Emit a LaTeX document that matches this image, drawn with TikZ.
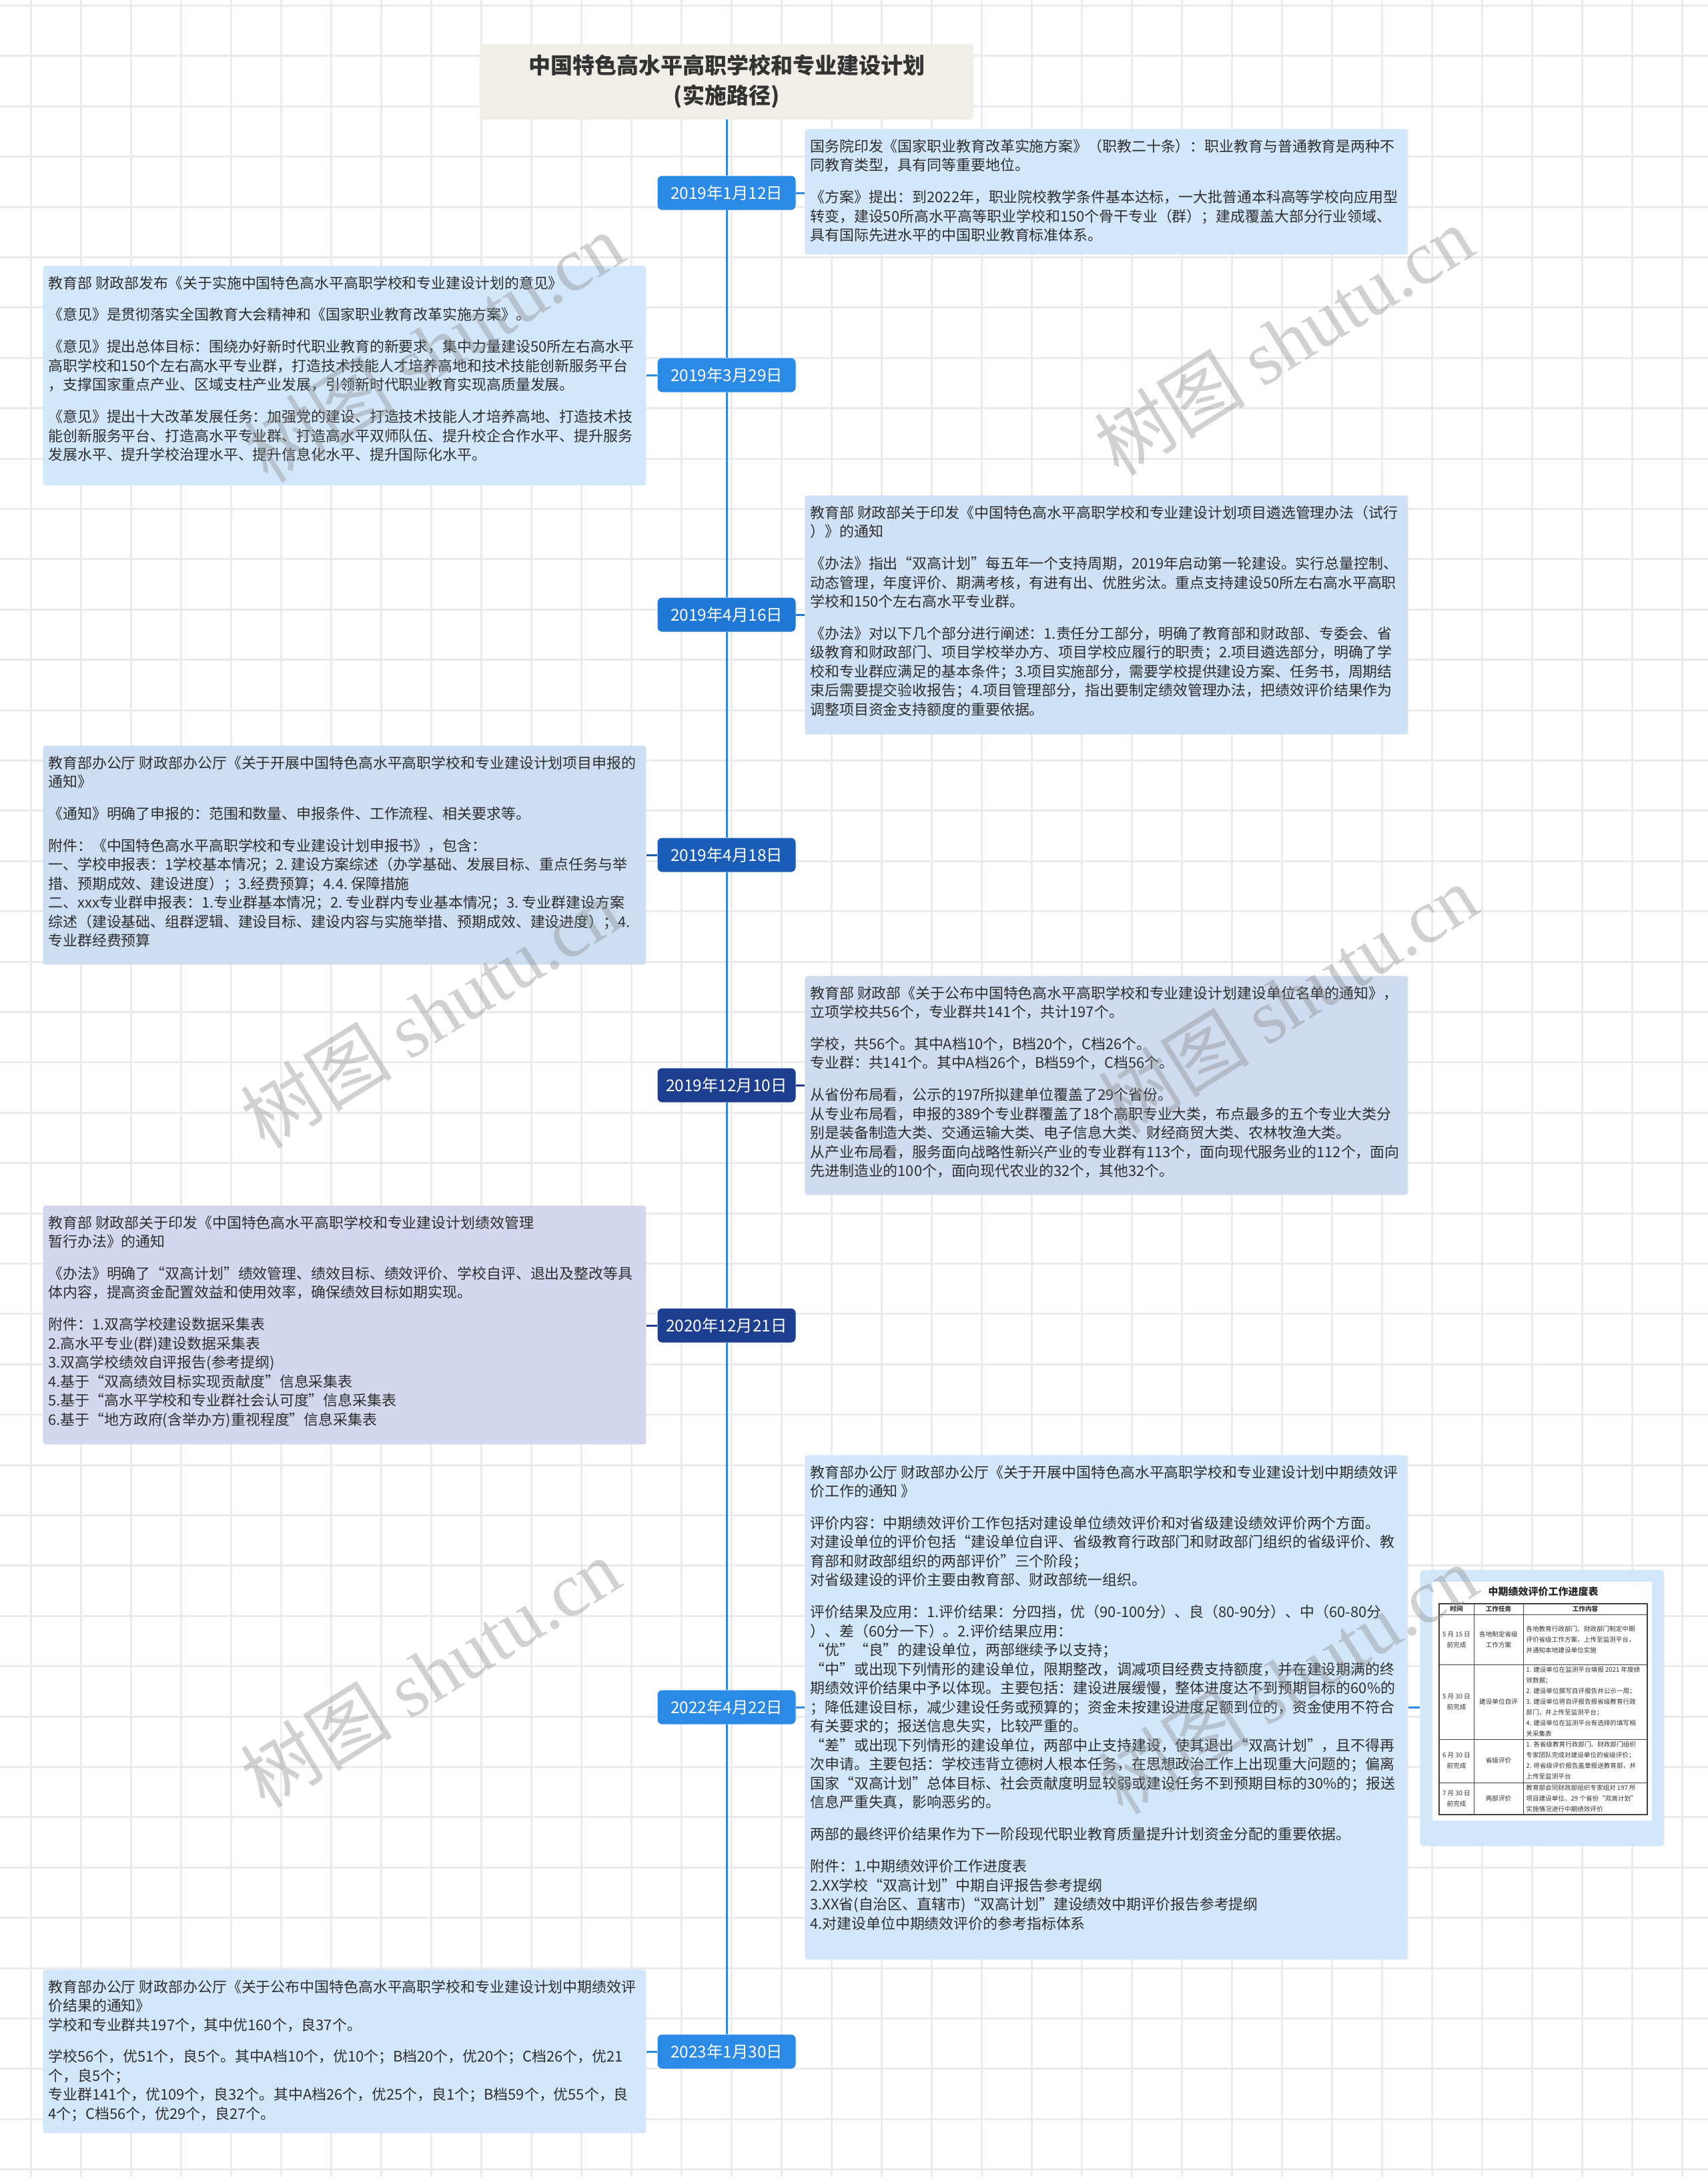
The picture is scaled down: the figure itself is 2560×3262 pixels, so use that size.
\documentclass[tikz,border=0pt]{standalone}
\usepackage{fontspec}
\setmainfont{Noto Sans CJK SC}
\newfontfamily\wmserif{Liberation Serif}
\newcommand{\tabfont}{\fontsize{4.8pt}{8pt}\selectfont}
\definecolor{gridgray}{HTML}{EBEBEB}
\definecolor{titlefill}{HTML}{EFEFE7}
\definecolor{titletext}{HTML}{333333}
\definecolor{dateblue}{HTML}{2B8AE6}
\definecolor{datemid}{HTML}{1F78D6}
\definecolor{datedeep}{HTML}{1A5DB8}
\definecolor{datenavy}{HTML}{1E3F8F}
\definecolor{noteblue}{HTML}{D3E7FA}
\definecolor{notemid}{HTML}{CFE1F5}
\definecolor{notedeep}{HTML}{CEDEF2}
\definecolor{notegrey}{HTML}{CFDBEE}
\definecolor{notenavy}{HTML}{D4D8EE}
\definecolor{notetext}{HTML}{2E2E2E}
\definecolor{wmgray}{HTML}{8C8C8C}
\begin{document}
\begin{tikzpicture}[x=0.5pt, y=-0.5pt,
  gridline/.style={draw=gridgray, line width=1.5pt},
  titlebox/.style={fill=titlefill, rounded corners=3pt, minimum width=370pt, minimum height=56.5pt, align=center, text=titletext, font=\fontsize{16.5pt}{22.5pt}\selectfont\bfseries},
  datebox/.style={rounded corners=3.5pt, minimum width=103.5pt, minimum height=25.5pt, inner sep=0pt, text=white, font=\fontsize{12.2pt}{14pt}\selectfont},
  notebox/.style={anchor=north west, rounded corners=2pt, inner xsep=4pt, inner ysep=7.5pt, text=notetext, font=\fontsize{10.95pt}{14.25pt}\selectfont},
  spine/.style={draw=dateblue, line width=1.5pt},
  link/.style={line width=1.5pt},
  tabline/.style={draw=black!75, line width=0.5pt},
  tabcell/.style={inner sep=0pt, align=center, text=black!80, font=\tabfont},
  tabtext/.style={inner sep=0pt, anchor=west, align=left, text=black!80, font=\tabfont},
  watermark/.style={rotate=32, text=wmgray, text opacity=0.4, font=\fontsize{57pt}{60pt}\selectfont}
]
\useasboundingbox (0,0) rectangle (2560,3262);
\fill[white] (0,0) rectangle (2560,3262);
% background grid
\foreach \k in {0,...,33}
  \draw[gridline] ({46+75*\k},0) -- ({46+75*\k},3262);
\foreach \k in {0,...,43}
  \draw[gridline] (0,{8.4+75.4*\k}) -- (2560,{8.4+75.4*\k});

% title and dates on the time line
\node[titlebox] (title) at (1089,122.5) {中国特色高水平高职学校和专业建设计划\\(实施路径)};
\node[datebox, fill=dateblue] (d1) at (1089,289) {2019年1月12日};
\node[datebox, fill=dateblue] (d2) at (1089,562) {2019年3月29日};
\node[datebox, fill=datemid] (d3) at (1089,921) {2019年4月16日};
\node[datebox, fill=datedeep] (d4) at (1089,1281) {2019年4月18日};
\node[datebox, fill=datenavy] (d5) at (1089,1626) {2019年12月10日};
\node[datebox, fill=datenavy] (d6) at (1089,1986) {2020年12月21日};
\node[datebox, fill=dateblue] (d7) at (1089,2558) {2022年4月22日};
\node[datebox, fill=dateblue] (d8) at (1089,3074) {2023年1月30日};

\draw[spine] (title) -- (d1);
\draw[spine] (d1) -- (d2);
\draw[spine] (d2) -- (d3);
\draw[spine] (d3) -- (d4);
\draw[spine] (d4) -- (d5);
\draw[spine] (d5) -- (d6);
\draw[spine] (d6) -- (d7);
\draw[spine] (d7) -- (d8);

% notes
\node[notebox, fill=noteblue] (n1) at (1206,193) {\parbox[t][79pt][t]{444pt}{\raggedright
国务院印发《国家职业教育改革实施方案》（职教二十条）：职业教育与普通教育是两种不\\
同教育类型，具有同等重要地位。\\[9.7pt]
《方案》提出：到2022年，职业院校教学条件基本达标，一大批普通本科高等学校向应用型\\
转变，建设50所高水平高等职业学校和150个骨干专业（群）；建成覆盖大部分行业领域、\\
具有国际先进水平的中国职业教育标准体系。}};

\node[notebox, fill=noteblue] (n2) at (64,398) {\parbox[t][149.5pt][t]{444pt}{\raggedright
教育部~财政部发布《关于实施中国特色高水平高职学校和专业建设计划的意见》\\[9.7pt]
《意见》是贯彻落实全国教育大会精神和《国家职业教育改革实施方案》。\\[9.7pt]
《意见》提出总体目标：围绕办好新时代职业教育的新要求，集中力量建设50所左右高水平\\
高职学校和150个左右高水平专业群，打造技术技能人才培养高地和技术技能创新服务平台\\
，支撑国家重点产业、区域支柱产业发展，引领新时代职业教育实现高质量发展。\\[9.7pt]
《意见》提出十大改革发展任务：加强党的建设、打造技术技能人才培养高地、打造技术技\\
能创新服务平台、打造高水平专业群、打造高水平双师队伍、提升校企合作水平、提升服务\\
发展水平、提升学校治理水平、提升信息化水平、提升国际化水平。}};

\node[notebox, fill=notemid] (n3) at (1206,742) {\parbox[t][164pt][t]{444pt}{\raggedright
教育部~财政部关于印发《中国特色高水平高职学校和专业建设计划项目遴选管理办法（试行\\
）》的通知\\[9.7pt]
《办法》指出“双高计划”每五年一个支持周期，2019年启动第一轮建设。实行总量控制、\\
动态管理，年度评价、期满考核，有进有出、优胜劣汰。重点支持建设50所左右高水平高职\\
学校和150个左右高水平专业群。\\[9.7pt]
《办法》对以下几个部分进行阐述：1.责任分工部分，明确了教育部和财政部、专委会、省\\
级教育和财政部门、项目学校举办方、项目学校应履行的职责；2.项目遴选部分，明确了学\\
校和专业群应满足的基本条件；3.项目实施部分，需要学校提供建设方案、任务书，周期结\\
束后需要提交验收报告；4.项目管理部分，指出要制定绩效管理办法，把绩效评价结果作为\\
调整项目资金支持额度的重要依据。}};

\node[notebox, fill=notedeep] (n4) at (64,1117) {\parbox[t][149pt][t]{444pt}{\raggedright
教育部办公厅~财政部办公厅《关于开展中国特色高水平高职学校和专业建设计划项目申报的\\
通知》\\[9.7pt]
《通知》明确了申报的：范围和数量、申报条件、工作流程、相关要求等。\\[9.7pt]
附件：《中国特色高水平高职学校和专业建设计划申报书》，包含：\\
一、学校申报表：1学校基本情况；2.~建设方案综述（办学基础、发展目标、重点任务与举\\
措、预期成效、建设进度）；3.经费预算；4.4.~保障措施\\
二、xxx专业群申报表：1.专业群基本情况；2.~专业群内专业基本情况；3.~专业群建设方案\\
综述（建设基础、组群逻辑、建设目标、建设内容与实施举措、预期成效、建设进度）；4.\\
专业群经费预算}};

\node[notebox, fill=notegrey] (n5) at (1206,1462) {\parbox[t][149pt][t]{444pt}{\raggedright
教育部~财政部《关于公布中国特色高水平高职学校和专业建设计划建设单位名单的通知》，\\
立项学校共56个，专业群共141个，共计197个。\\[9.7pt]
学校，共56个。其中A档10个，B档20个，C档26个。\\
专业群：共141个。其中A档26个，B档59个，C档56个。\\[9.7pt]
从省份布局看，公示的197所拟建单位覆盖了29个省份。\\
从专业布局看，申报的389个专业群覆盖了18个高职专业大类，布点最多的五个专业大类分\\
别是装备制造大类、交通运输大类、电子信息大类、财经商贸大类、农林牧渔大类。\\
从产业布局看，服务面向战略性新兴产业的专业群有113个，面向现代服务业的112个，面向\\
先进制造业的100个，面向现代农业的32个，其他32个。}};

\node[notebox, fill=notenavy] (n6) at (64,1806) {\parbox[t][164pt][t]{444pt}{\raggedright
教育部~财政部关于印发《中国特色高水平高职学校和专业建设计划绩效管理\\
暂行办法》的通知\\[9.7pt]
《办法》明确了“双高计划”绩效管理、绩效目标、绩效评价、学校自评、退出及整改等具\\
体内容，提高资金配置效益和使用效率，确保绩效目标如期实现。\\[9.7pt]
附件：1.双高学校建设数据采集表\\
2.高水平专业(群)建设数据采集表\\
3.双高学校绩效自评报告(参考提纲)\\
4.基于“双高绩效目标实现贡献度”信息采集表\\
5.基于“高水平学校和专业群社会认可度”信息采集表\\
6.基于“地方政府(含举办方)重视程度”信息采集表}};

\node[notebox, fill=noteblue] (n7) at (1206,2180) {\parbox[t][363pt][t]{444pt}{\raggedright
教育部办公厅~财政部办公厅《关于开展中国特色高水平高职学校和专业建设计划中期绩效评\\
价工作的通知~》\\[9.7pt]
评价内容：中期绩效评价工作包括对建设单位绩效评价和对省级建设绩效评价两个方面。\\
对建设单位的评价包括“建设单位自评、省级教育行政部门和财政部门组织的省级评价、教\\
育部和财政部组织的两部评价”三个阶段；\\
对省级建设的评价主要由教育部、财政部统一组织。\\[9.7pt]
评价结果及应用：1.评价结果：分四挡，优（90-100分）、良（80-90分）、中（60-80分\\
）、差（60分一下）。2.评价结果应用：\\
“优”“良”的建设单位，两部继续予以支持；\\
“中”或出现下列情形的建设单位，限期整改，调减项目经费支持额度，并在建设期满的终\\
期绩效评价结果中予以体现。主要包括：建设进展缓慢，整体进度达不到预期目标的60\%的\\
；降低建设目标，减少建设任务或预算的；资金未按建设进度足额到位的，资金使用不符合\\
有关要求的；报送信息失实，比较严重的。\\
“差”或出现下列情形的建设单位，两部中止支持建设，使其退出“双高计划”，且不得再\\
次申请。主要包括：学校违背立德树人根本任务，在思想政治工作上出现重大问题的；偏离\\
国家“双高计划”总体目标、社会贡献度明显较弱或建设任务不到预期目标的30\%的；报送\\
信息严重失真，影响恶劣的。\\[9.7pt]
两部的最终评价结果作为下一阶段现代职业教育质量提升计划资金分配的重要依据。\\[9.7pt]
附件：1.中期绩效评价工作进度表\\
2.XX学校“双高计划”中期自评报告参考提纲\\
3.XX省(自治区、直辖市)“双高计划”建设绩效中期评价报告参考提纲\\
4.对建设单位中期绩效评价的参考指标体系}};

\node[notebox, fill=noteblue] (n8) at (64,2951) {\parbox[t][107.5pt][t]{444pt}{\raggedright
教育部办公厅~财政部办公厅《关于公布中国特色高水平高职学校和专业建设计划中期绩效评\\
价结果的通知》\\
学校和专业群共197个，其中优160个，良37个。\\[9.7pt]
学校56个，优51个，良5个。其中A档10个，优10个；B档20个，优20个；C档26个，优21\\
个，良5个；\\
专业群141个，优109个，良32个。其中A档26个，优25个，良1个；B档59个，优55个，良\\
4个；C档56个，优29个，良27个。}};

% image of the schedule table
\node[fill=noteblue, rounded corners=3pt, minimum width=183pt, minimum height=207pt, anchor=north west, inner sep=0pt] (img) at (2128,2352) {};
\fill[white] (2147,2370) rectangle (2476,2728);
\node[inner sep=0pt, text=black!85, font=\fontsize{7.5pt}{9pt}\selectfont\bfseries] (tabtitle) at (2313,2385) {中期绩效评价工作进度表};
\draw[tabline, line width=0.8pt] (2157,2403) rectangle (2469,2719);
\foreach \ty in {2419,2494,2606,2671}
  \draw[tabline] (2157,\ty) -- (2469,\ty);
\foreach \tx in {2209,2283}
  \draw[tabline] (\tx,2403) -- (\tx,2719);
\node[tabcell, font=\tabfont\bfseries] (h1) at (2183,2411) {时间};
\node[tabcell, font=\tabfont\bfseries] (h2) at (2246,2411) {工作任务};
\node[tabcell, font=\tabfont\bfseries] (h3) at (2376,2411) {工作内容};
\node[tabcell] (t1a) at (2183,2457) {5 月 15 日\\前完成};
\node[tabcell] (t1b) at (2246,2457) {各地制定省级\\工作方案};
\node[tabtext] (t1c) at (2287,2457) {各地教育行政部门、财政部门制定中期\\评价省级工作方案，上传至监测平台，\\并通知本地建设单位实施};
\node[tabcell] (t2a) at (2183,2550) {5 月 30 日\\前完成};
\node[tabcell] (t2b) at (2246,2550) {建设单位自评};
\node[tabtext] (t2c) at (2287,2550) {1. 建设单位在监测平台填报 2021 年度绩\\效数据；\\2. 建设单位撰写自评报告并公示一周；\\3. 建设单位将自评报告报省级教育行政\\部门，并上传至监测平台；\\4. 建设单位在监测平台有选择的填写相\\关采集表};
\node[tabcell] (t3a) at (2183,2638) {6 月 30 日\\前完成};
\node[tabcell] (t3b) at (2246,2638) {省级评价};
\node[tabtext] (t3c) at (2287,2638) {1. 各省级教育行政部门、财政部门组织\\专家团队完成对建设单位的省级评价；\\2. 将省级评价报告盖章报送教育部，并\\上传至监测平台};
\node[tabcell] (t4a) at (2183,2695) {7 月 30 日\\前完成};
\node[tabcell] (t4b) at (2246,2695) {两部评价};
\node[tabtext] (t4c) at (2287,2695) {教育部会同财政部组织专家组对 197 所\\项目建设单位、29 个省份“双高计划”\\实施情况进行中期绩效评价};

% links from dates to notes
\draw[link, draw=dateblue] (d1.east) -- (d1.east -| n1.west);
\draw[link, draw=dateblue] (d2.west) -- (d2.west -| n2.east);
\draw[link, draw=datemid] (d3.east) -- (d3.east -| n3.west);
\draw[link, draw=datedeep] (d4.west) -- (d4.west -| n4.east);
\draw[link, draw=datenavy] (d5.east) -- (d5.east -| n5.west);
\draw[link, draw=datenavy] (d6.west) -- (d6.west -| n6.east);
\draw[link, draw=dateblue] (d7.east) -- (d7.east -| n7.west);
\draw[link, draw=dateblue] (n7.east |- d7) -- (img.west |- d7);
\draw[link, draw=dateblue] (d8.west) -- (d8.west -| n8.east);

% watermarks
\foreach \wx/\wy [count=\w] in {650/520, 1924/510, 645/1518, 1930/1497, 645/2506, 1930/2516}
  \node[watermark] (wm\w) at (\wx,\wy) {树图 {\wmserif shutu.cn}};
\end{tikzpicture}
\end{document}
